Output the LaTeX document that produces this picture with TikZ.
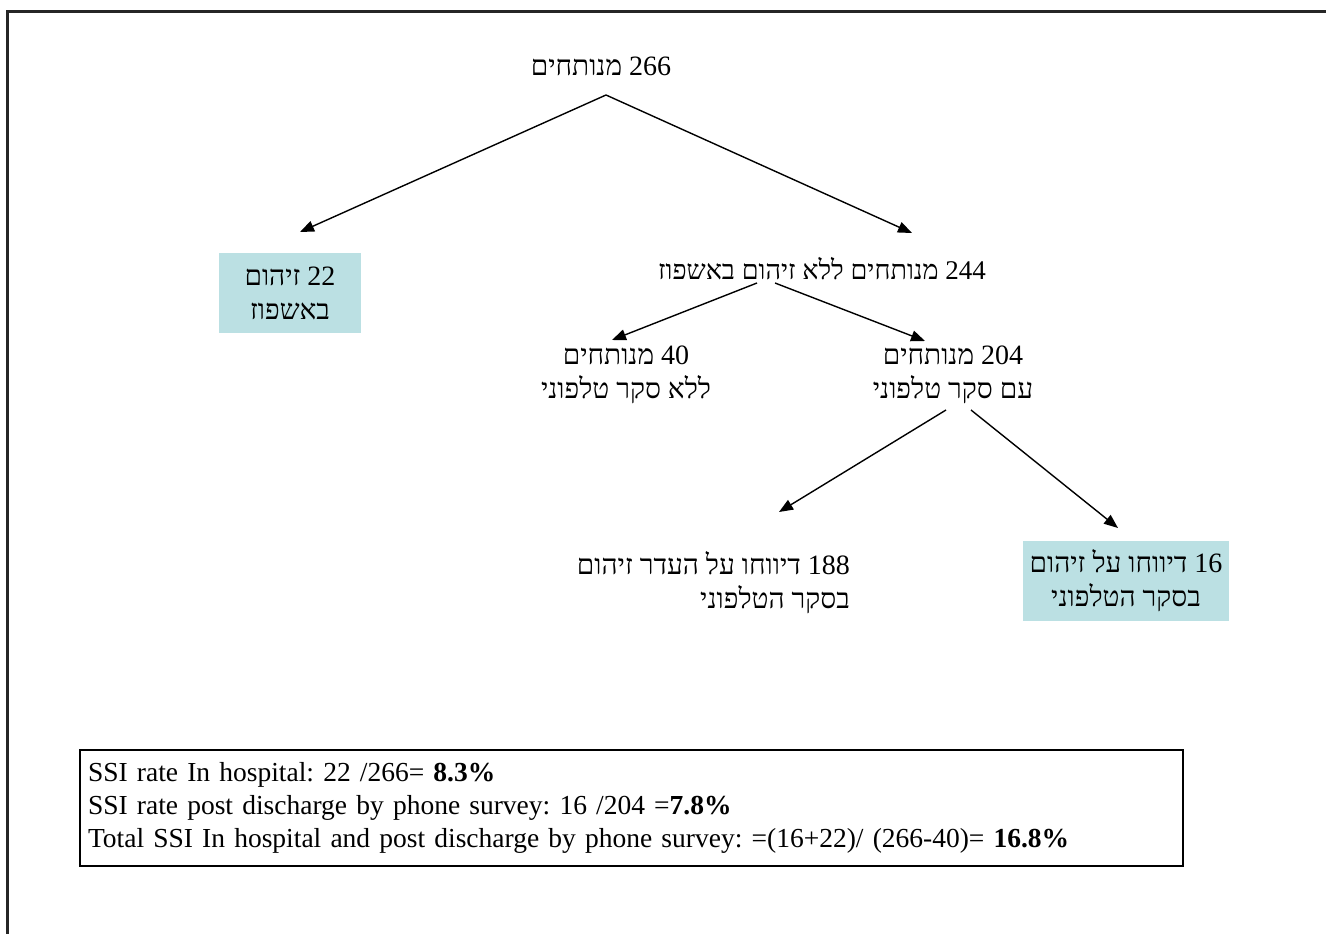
\documentclass[tikz,border=0pt]{standalone}
\usepackage{fontspec}
\setmainfont{Liberation Serif}
\newfontfamily\hebfont[Script=Hebrew]{Liberation Serif}
\TeXXeTstate=1
\frenchspacing
\usetikzlibrary{arrows.meta,calc}
\definecolor{boxblue}{RGB}{187,224,227}
\begin{document}
\begin{tikzpicture}[x=1pt,y=-1pt,
  heb/.style={font=\hebfont\fontsize{28}{34}\selectfont, inner sep=0pt},
  hbox/.style={heb, fill=boxblue},
  arr/.style={-{Triangle[length=14pt,width=11pt]}, line width=1.4pt},
  ]
\useasboundingbox (0,0) rectangle (1326,934);
\fill[white] (0,0) rectangle (1326,934);
\draw[line width=2.2pt, black!85] (7.5,934) -- (7.5,11.5) -- (1326,11.5);
\node[heb] (root) at (601,66) {\beginR 266 מנותחים\endR};
\node[hbox, minimum width=142pt, minimum height=80pt, align=center] (b22) at (290,293) {\beginR 22 זיהום\endR\\\beginR באשפוז\endR};
\node[heb, font=\hebfont\fontsize{27}{34}\selectfont] (n244) at (822,269) {\beginR 244 מנותחים ללא זיהום באשפוז\endR};
\node[heb, align=center] (n40) at (626,375) {\beginR 40 מנותחים\endR\\\beginR ללא סקר טלפוני\endR};
\node[heb, align=center] (n204) at (953,375) {\beginR 204 מנותחים\endR\\\beginR עם סקר טלפוני\endR};
\node[heb, align=right, anchor=east] (n188) at (850,583) {\beginR 188 דיווחו על העדר זיהום\endR\\\beginR בסקר הטלפוני\endR};
\node[hbox, minimum width=206pt, minimum height=80pt, align=center] (b16) at (1126,581) {\beginR 16 דיווחו על זיהום\endR\\\beginR בסקר הטלפוני\endR};
\node[draw, line width=1.2pt, minimum width=1103pt, minimum height=116pt, text width=1087pt, inner xsep=8pt, inner ysep=0pt, align=left, font=\fontsize{27.5}{33}\selectfont] (stats) at (631.5,808)
 {SSI rate In hospital: 22 /266= \textbf{8.3\%}\\
  SSI rate post discharge by phone survey: 16 /204 =\textbf{7.8\%}\\
  Total SSI In hospital and post discharge by phone survey: =(16+22)/ (266-40)= \textbf{16.8\%}};
\draw[arr] ($(root)+(5,29)$) -- ($(b22)+(10,-61)$);
\draw[arr] ($(root)+(5,29)$) -- ($(n244)+(90,-36)$);
\draw[arr] ($(n244)+(-65,14)$) -- ($(n40)+(-14,-35)$);
\draw[arr] ($(n244)+(-47,14)$) -- ($(n204)+(-28,-34)$);
\draw[arr] ($(n204)+(-7,35)$) -- ($(n188.east)+(-71,-71)$);
\draw[arr] ($(n204)+(18,35)$) -- ($(b16)+(-8,-53)$);
\end{tikzpicture}
\end{document}
